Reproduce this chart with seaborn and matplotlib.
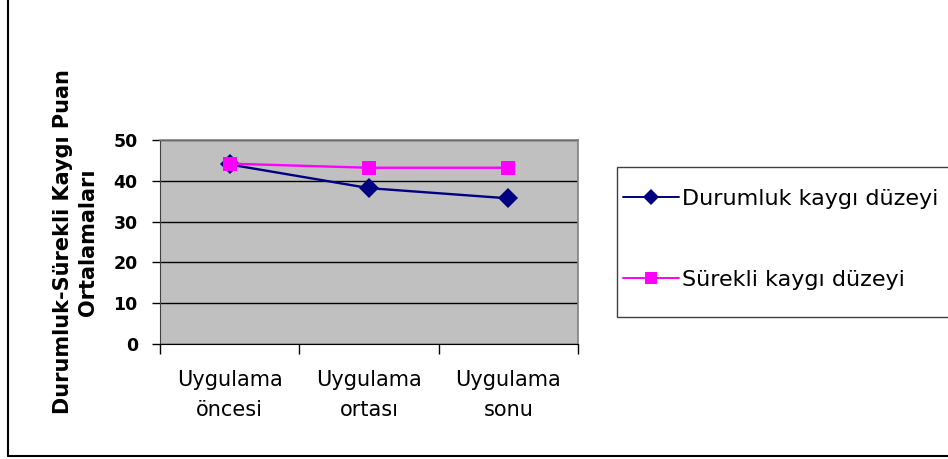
import pandas as pd
import matplotlib
matplotlib.use("Agg")
import matplotlib.pyplot as plt
from matplotlib.lines import Line2D
import matplotlib.patches as mpatches
import seaborn as sns

# Data
stages = ["Uygulama\nöncesi", "Uygulama\nortası", "Uygulama\nsonu"]
durumluk = [44.0, 38.2, 35.7]
surekli = [44.2, 43.2, 43.2]
series_names = ["Durumluk kaygı düzeyi", "Sürekli kaygı düzeyi"]
y_ticks = [0, 10, 20, 30, 40, 50]
y_label = "Durumluk-Sürekli Kaygı Puan\nOrtalamaları"

df = pd.DataFrame({
    "stage": stages * 2,
    "value": durumluk + surekli,
    "series": [series_names[0]] * 3 + [series_names[1]] * 3,
})

sns.set_style("white")
plt.rcParams["font.family"] = ["DejaVu Sans"]
plt.rcParams["text.color"] = "black"
plt.rcParams["xtick.color"] = "black"
plt.rcParams["ytick.color"] = "black"
plt.rcParams["axes.labelcolor"] = "black"

fig = plt.figure(figsize=(9.48, 4.59), dpi=100)
ax = fig.add_axes([160 / 948, 115 / 459, 418 / 948, 204 / 459])
ax.set_facecolor("#C0C0C0")

sns.lineplot(data=df, x="stage", y="value", hue="series", style="series",
             palette={series_names[0]: "#000080", series_names[1]: "#FF00FF"},
             markers={series_names[0]: "D", series_names[1]: "s"},
             dashes=False, markersize=10, linewidth=1.7, sort=False,
             markeredgewidth=0, ax=ax, zorder=3)

# y axis
ax.set_ylim(0, 50)
ax.set_yticks(y_ticks)
ax.set_yticklabels([str(v) for v in y_ticks], fontsize=12.5, fontweight="bold")
ax.yaxis.grid(True, color="black", linewidth=1)
ax.set_axisbelow(True)
ax.tick_params(axis="y", direction="out", length=6, width=1, pad=10, left=True)
ax.set_ylabel(y_label, fontsize=15, fontweight="bold", labelpad=11, linespacing=1.35)

# x axis: ticks between categories, labels centred
ax.set_xlim(-0.5, 2.5)
ax.set_xticks([-0.5, 0.5, 1.5, 2.5])
ax.set_xticklabels([])
ax.set_xticks([0, 1, 2], minor=True)
ax.set_xticklabels(stages, minor=True, fontsize=15, linespacing=1.6)
ax.tick_params(axis="x", which="major", direction="out", length=7, width=1, bottom=True)
ax.tick_params(axis="x", which="minor", length=0, pad=19)
ax.set_xlabel("")

for side in ["top", "right"]:
    ax.spines[side].set_color("#808080")
    ax.spines[side].set_linewidth(1.2)
ax.spines["left"].set_color("#404040")
ax.spines["bottom"].set_color("black")

# legend box on the right (frame drawn separately, runs off the right edge)
fig.add_artist(mpatches.Rectangle((617 / 948, (459 - 317) / 459), 400 / 948, 150 / 459,
                                  transform=fig.transFigure, facecolor="white",
                                  edgecolor="#404040", linewidth=1, zorder=1))
handles, labels = ax.get_legend_handles_labels()
ax.get_legend().remove()
for h in handles:
    h.set_markersize(8)
    h.set_linewidth(1.4)
leg = fig.legend(handles, labels, loc="upper left",
                 bbox_to_anchor=(623 / 948, (459 - 189) / 459),
                 fontsize=16, frameon=False,
                 handlelength=2.5, handletextpad=0.15,
                 labelspacing=2.75, borderpad=0, borderaxespad=0)
leg.set_zorder(2)

# outer chart border (left and bottom edges visible)
fig.add_artist(Line2D([8 / 948, 8 / 948], [3 / 459, 1.0], transform=fig.transFigure,
                      color="black", linewidth=1.5))
fig.add_artist(Line2D([8 / 948, 1.0], [3 / 459, 3 / 459], transform=fig.transFigure,
                      color="black", linewidth=1.5))

fig.savefig("out.png", dpi=100)
